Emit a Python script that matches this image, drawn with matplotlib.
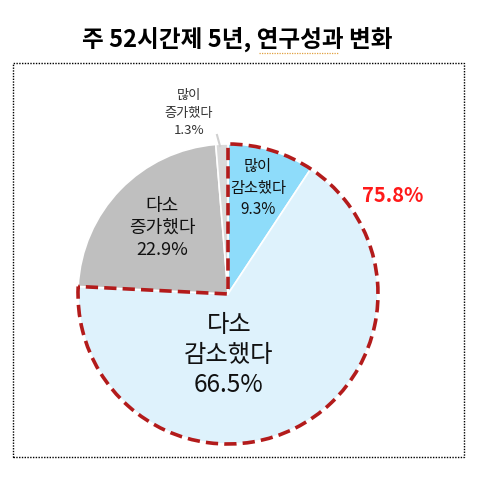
import matplotlib
matplotlib.use('Agg')
import matplotlib.pyplot as plt
from matplotlib.patches import Wedge, Rectangle
import numpy as np

plt.rcParams['font.family'] = ['Noto Sans CJK KR', 'DejaVu Sans']

title = '주 52시간제 5년, 연구성과 변화'
labels = ['많이\n감소했다', '다소\n감소했다', '다소\n증가했다', '많이\n증가했다']
values = [9.3, 66.5, 22.9, 1.3]
colors = ['#8EDCFA', '#DEF2FC', '#BFBFBF', '#D9D9D9']
total_decrease = 75.8

W, H = 478, 496
fig = plt.figure(figsize=(W / 100, H / 100), dpi=100)
ax = fig.add_axes([0, 0, 1, 1])

cx, cy, r = 228, H - 294, 150

wedges, _ = ax.pie(values, colors=colors, startangle=90, counterclock=False,
                   center=(cx, cy), radius=r, frame=True,
                   wedgeprops=dict(edgecolor='white', linewidth=1.2))
ax.set_xlim(0, W)
ax.set_ylim(0, H)
ax.set_aspect('equal')
ax.axis('off')

# dashed outline around the "decreased" share
t2 = 90
t1 = 90 - total_decrease * 3.6
ax.add_patch(Wedge((cx, cy), r, t1, t2, fill=False, edgecolor='#B31B1B',
                   linewidth=2.6, linestyle=(0, (3.4, 1.7)), zorder=5))

# slice labels
ax.text(258, H - 188, f'{labels[0]}\n{values[0]}%', ha='center', va='center',
        fontsize=11, linespacing=1.35, color='#111111')
ax.text(229, H - 355, f'{labels[1]}\n{values[1]}%', ha='center', va='center',
        fontsize=17.5, linespacing=1.2, color='#111111')
ax.text(162, H - 228, f'{labels[2]}\n{values[2]}%', ha='center', va='center',
        fontsize=13, linespacing=1.3, color='#111111')
ax.text(189, H - 113, f'{labels[3]}\n{values[3]}%', ha='center', va='center',
        fontsize=9.5, linespacing=1.45, color='#333333')

# leader line for the small slice
ax.plot([217, 220], [H - 135, H - 146], color='#D0D0D0', lw=1.5)

ax.text(393, H - 196, f'{total_decrease}%', ha='center', va='center',
        fontsize=14.5, fontweight='bold', color='#FF1A1A')

# title
ax.text(237, H - 39, title, ha='center', va='center', fontsize=17,
        fontweight='bold', color='black')
ax.plot([259, 338], [H - 53, H - 53], color='#E0A040', lw=0.9, linestyle=(0, (1, 1)))

# dotted frame
ax.add_patch(Rectangle((13, H - 457), 451, 394, fill=False, edgecolor='black',
                       linewidth=1.0, linestyle=(0, (1, 1))))

fig.savefig('out.png', dpi=100)
